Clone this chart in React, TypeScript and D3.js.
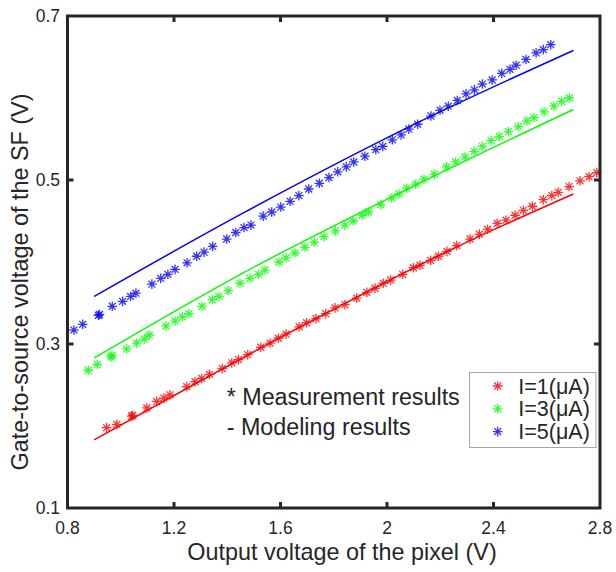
import React, { useEffect, useRef } from "react";
import * as d3 from "d3";

// measured points [Vout, Vgs]
const meas1: [number, number][] = [
  [0.947, 0.198], [0.985, 0.202], [1.041, 0.212], [1.045, 0.213], [1.098, 0.222], [1.135, 0.23],
  [1.162, 0.234], [1.185, 0.238], [1.248, 0.248], [1.279, 0.254], [1.304, 0.258], [1.333, 0.263],
  [1.381, 0.27], [1.417, 0.277], [1.442, 0.281], [1.477, 0.287], [1.526, 0.296], [1.561, 0.301],
  [1.592, 0.307], [1.621, 0.312], [1.67, 0.321], [1.698, 0.326], [1.733, 0.331], [1.77, 0.337],
  [1.805, 0.344], [1.842, 0.348], [1.886, 0.356], [1.924, 0.363], [1.955, 0.368], [1.986, 0.374],
  [2.014, 0.378], [2.059, 0.385], [2.099, 0.393], [2.124, 0.396], [2.164, 0.402], [2.193, 0.407],
  [2.225, 0.413], [2.262, 0.42], [2.312, 0.428], [2.347, 0.434], [2.378, 0.44], [2.414, 0.447],
  [2.447, 0.451], [2.481, 0.457], [2.512, 0.463], [2.546, 0.468], [2.587, 0.476], [2.619, 0.481],
  [2.643, 0.485], [2.684, 0.492], [2.725, 0.499], [2.759, 0.504], [2.788, 0.509],
];

const meas3: [number, number][] = [
  [0.878, 0.268], [0.912, 0.275], [0.963, 0.284], [0.967, 0.286], [1.022, 0.294], [1.06, 0.301],
  [1.088, 0.306], [1.107, 0.311], [1.17, 0.322], [1.204, 0.328], [1.231, 0.333], [1.256, 0.337],
  [1.305, 0.346], [1.344, 0.354], [1.369, 0.358], [1.404, 0.365], [1.448, 0.374], [1.485, 0.38],
  [1.517, 0.385], [1.542, 0.39], [1.594, 0.4], [1.621, 0.405], [1.654, 0.411], [1.692, 0.418],
  [1.727, 0.424], [1.763, 0.431], [1.806, 0.438], [1.842, 0.445], [1.873, 0.45], [1.907, 0.457],
  [1.93, 0.461], [1.976, 0.47], [2.018, 0.478], [2.045, 0.483], [2.074, 0.49], [2.108, 0.495],
  [2.139, 0.501], [2.178, 0.507], [2.224, 0.516], [2.258, 0.522], [2.293, 0.528], [2.327, 0.535],
  [2.358, 0.541], [2.391, 0.548], [2.422, 0.553], [2.456, 0.559], [2.493, 0.565], [2.525, 0.572],
  [2.552, 0.576], [2.59, 0.583], [2.627, 0.59], [2.656, 0.596], [2.685, 0.6],
];

const meas5: [number, number][] = [
  [0.824, 0.317], [0.857, 0.324], [0.916, 0.335], [0.92, 0.336], [0.968, 0.346], [1.007, 0.352],
  [1.037, 0.358], [1.057, 0.362], [1.117, 0.373], [1.15, 0.38], [1.177, 0.385], [1.204, 0.391],
  [1.249, 0.399], [1.285, 0.407], [1.313, 0.412], [1.345, 0.419], [1.398, 0.428], [1.432, 0.436],
  [1.463, 0.442], [1.489, 0.445], [1.535, 0.456], [1.567, 0.461], [1.601, 0.467], [1.636, 0.474],
  [1.669, 0.481], [1.706, 0.489], [1.746, 0.496], [1.782, 0.503], [1.815, 0.51], [1.847, 0.516],
  [1.875, 0.522], [1.917, 0.529], [1.958, 0.537], [1.984, 0.541], [2.02, 0.549], [2.053, 0.555],
  [2.082, 0.562], [2.115, 0.568], [2.165, 0.578], [2.199, 0.585], [2.23, 0.59], [2.264, 0.597],
  [2.297, 0.605], [2.328, 0.61], [2.358, 0.617], [2.395, 0.622], [2.431, 0.63], [2.462, 0.635],
  [2.485, 0.64], [2.522, 0.647], [2.56, 0.655], [2.587, 0.659], [2.615, 0.665],
];

// modeling results
const model1: [number, number][] = [[0.9, 0.183], [1.64, 0.315], [2.24, 0.415], [2.7, 0.483]];
const model3: [number, number][] = [[0.9, 0.283], [1.45, 0.385], [2.09, 0.491], [2.7, 0.586]];
const model5: [number, number][] = [[0.9, 0.358], [1.45, 0.458], [2.09, 0.566], [2.7, 0.658]];

const labels = ["I=1(μA)", "I=3(μA)", "I=5(μA)"];
const colors = ["#ff0000", "#00ff00", "#0000ff"];
const xTicks = [0.8, 1.2, 1.6, 2, 2.4, 2.8];
const yTicks = [0.1, 0.3, 0.5, 0.7];

const FONT = "'Liberation Sans', Arial, sans-serif";
const INK = "#262626";

// matlab style '*' marker
const starPath = (r: number) => {
  const d = r * 0.72;
  return `M${-r},0L${r},0M0,${-r}L0,${r}M${-d},${-d}L${d},${d}M${-d},${d}L${d},${-d}`;
};

const App = () => {
  const ref = useRef<SVGSVGElement | null>(null);

  useEffect(() => {
    const svg = d3.select(ref.current);
    svg.selectAll("*").remove();

    const left = 67.5, right = 600, top = 16, bottom = 508;
    const x = d3.scaleLinear().domain([0.8, 2.8]).range([left, right]);
    const y = d3.scaleLinear().domain([0.1, 0.7]).range([bottom, top]);

    const line = d3
      .line<[number, number]>()
      .x((d) => x(d[0]))
      .y((d) => y(d[1]))
      .curve(d3.curveMonotoneX);

    const meas = [meas1, meas3, meas5];
    const models = [model1, model3, model5];

    models.forEach((m, i) => {
      svg.append("path")
        .attr("d", line(m))
        .attr("fill", "none")
        .attr("stroke", colors[i])
        .attr("stroke-width", 1.5);
    });

    meas.forEach((pts, i) => {
      svg.append("g")
        .selectAll("path")
        .data(pts)
        .join("path")
        .attr("transform", (d) => `translate(${x(d[0])},${y(d[1])})`)
        .attr("d", starPath(4.8))
        .attr("fill", "none")
        .attr("stroke", colors[i])
        .attr("stroke-opacity", 0.8)
        .attr("stroke-width", 1.3);
    });

    // axes box and inward ticks
    const ax = svg.append("g").attr("stroke", INK).attr("stroke-width", 3).attr("fill", "none");
    ax.append("rect")
      .attr("x", left).attr("y", top)
      .attr("width", right - left).attr("height", bottom - top);
    xTicks.slice(1, -1).forEach((t) => {
      ax.append("line").attr("x1", x(t)).attr("x2", x(t)).attr("y1", bottom).attr("y2", bottom - 6);
      ax.append("line").attr("x1", x(t)).attr("x2", x(t)).attr("y1", top).attr("y2", top + 6);
    });
    yTicks.slice(1, -1).forEach((t) => {
      ax.append("line").attr("x1", left).attr("x2", left + 6).attr("y1", y(t)).attr("y2", y(t));
      ax.append("line").attr("x1", right).attr("x2", right - 6).attr("y1", y(t)).attr("y2", y(t));
    });

    const txt = svg.append("g").attr("font-family", FONT).attr("fill", INK);
    xTicks.forEach((t) => {
      txt.append("text")
        .attr("x", x(t)).attr("y", 534)
        .attr("text-anchor", "middle")
        .attr("font-size", 17.5)
        .text(d3.format("~g")(t));
    });
    yTicks.forEach((t) => {
      txt.append("text")
        .attr("x", 60).attr("y", y(t) + 6)
        .attr("text-anchor", "end")
        .attr("font-size", 17.5)
        .text(d3.format("~g")(t));
    });

    txt.append("text")
      .attr("x", 342).attr("y", 560)
      .attr("text-anchor", "middle")
      .attr("font-size", 23.4)
      .text("Output voltage of the pixel (V)");
    txt.append("text")
      .attr("transform", `translate(28,${(top + bottom) / 2 + 20}) rotate(-90)`)
      .attr("text-anchor", "middle")
      .attr("font-size", 23.4)
      .text("Gate-to-source voltage of the SF (V)");

    txt.append("text").attr("x", 226.7).attr("y", 405).attr("font-size", 23.3).text("* Measurement results");
    txt.append("text").attr("x", 226.7).attr("y", 435).attr("font-size", 23.3).text("- Modeling results");

    // legend
    const lg = svg.append("g");
    lg.append("rect")
      .attr("x", 469.5).attr("y", 372.5).attr("width", 126.5).attr("height", 75)
      .attr("fill", "#fff").attr("stroke", "#a6a6a6").attr("stroke-width", 1);
    labels.forEach((l, i) => {
      const ly = 386 + i * 22.8;
      lg.append("path")
        .attr("transform", `translate(497.7,${ly})`)
        .attr("d", starPath(4.8))
        .attr("stroke", colors[i]).attr("stroke-opacity", 0.8).attr("stroke-width", 1.3);
      lg.append("text")
        .attr("x", 518.3).attr("y", ly + 7.5)
        .attr("font-family", FONT).attr("font-size", 21.5).attr("fill", INK)
        .text(l);
    });
  }, []);

  return (
    <svg
      ref={ref}
      width={616}
      height={572}
      style={{ position: "absolute", left: 0, top: 0, background: "#fff" }}
    />
  );
};

export default App;
